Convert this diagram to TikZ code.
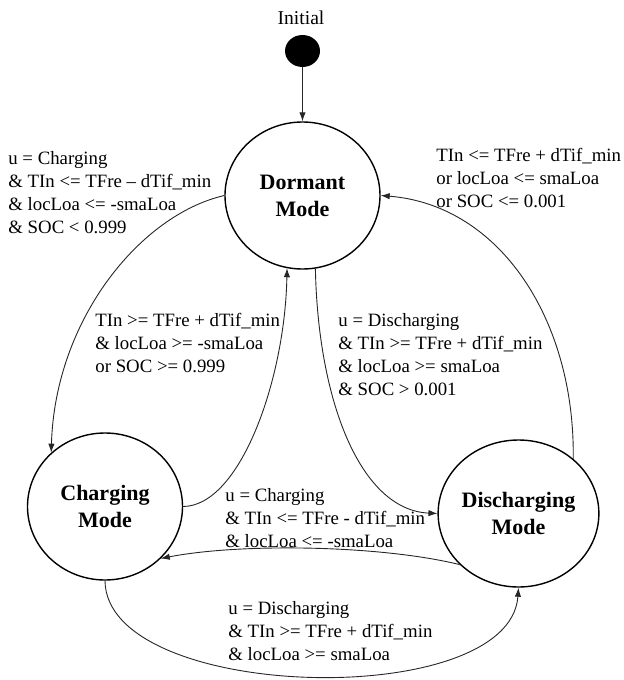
\documentclass[tikz,border=0pt]{standalone}
\usepackage{fontspec}
\setmainfont{Liberation Serif}
\usetikzlibrary{shapes.geometric,arrows.meta}
\begin{document}
\begin{tikzpicture}[x=0.5pt,y=-0.5pt,
  state/.style={draw=black, line width=0.7pt, ellipse, minimum width=77.5pt, minimum height=73.5pt, inner sep=0pt, align=center, font=\fontsize{11}{13.5}\selectfont\bfseries},
  lbl/.style={anchor=base west, inner sep=0pt, align=left, font=\fontsize{9.4}{11.5}\selectfont},
  conn/.style={draw=black!85, line width=0.45pt, -{Latex[length=4.5pt,width=3.2pt]}},
]
\useasboundingbox (0,0) rectangle (624,680);
\node[font=\fontsize{9.8}{12}\selectfont, inner sep=0pt] (init) at (301,18) {Initial};
\node[ellipse, fill=black, minimum width=17.5pt, minimum height=16pt, inner sep=0pt] (dot) at (302.5,51) {};
\node[state] (dor) at (302.5,195.5) {Dormant\\Mode};
\node[state] (chg) at (105,506.5) {Charging\\Mode};
\node[state] (dis) at (518.5,513.5) {Discharging\\Mode};

\draw[conn] (dot.south) -- (dor.north);
\draw[conn] (dor.180) .. controls (140,215) and (55,320) .. (chg.135);
\draw[conn] (chg.0) .. controls (240,506) and (285,380) .. (dor.258);
\draw[conn] (dor.280) .. controls (318,400) and (360,510) .. (dis.180);
\draw[conn] (dis.45) .. controls (575,320) and (500,205) .. (dor.0);
\draw[conn] (dis.221) .. controls (380,545) and (240,543) .. (chg.317);
\draw[conn] (chg.270) .. controls (106,702) and (510,712) .. (dis.270);

\node[lbl] (l1) at (8,233.5) {u = Charging\\\& TIn <= TFre – dTif\_min\\\& locLoa <= -smaLoa\\\& SOC < 0.999};
\node[lbl] (l2) at (436,207.5) {TIn <= TFre + dTif\_min\\or locLoa <= smaLoa\\or SOC <= 0.001};
\node[lbl] (l3) at (95,372.5) {TIn >= TFre + dTif\_min\\\& locLoa >= -smaLoa\\or SOC >= 0.999};
\node[lbl] (l4) at (338,395.5) {u = Discharging\\\& TIn >= TFre + dTif\_min\\\& locLoa >= smaLoa\\\& SOC > 0.001};
\node[lbl] (l5) at (225,547.5) {u = Charging\\\& TIn <= TFre - dTif\_min\\\& locLoa <= -smaLoa};
\node[lbl] (l6) at (228,660.5) {u = Discharging\\\& TIn >= TFre + dTif\_min\\\& locLoa >= smaLoa};
\end{tikzpicture}
\end{document}
